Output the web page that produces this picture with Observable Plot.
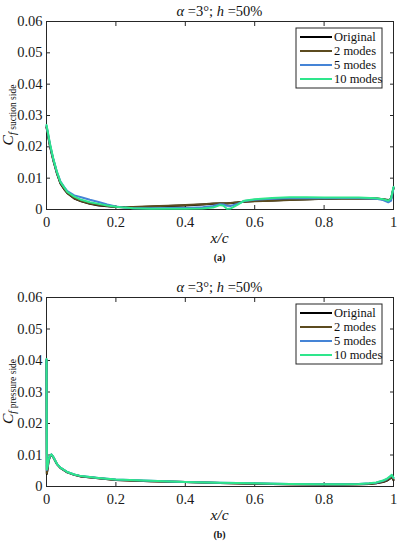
<!DOCTYPE html>
<html><head><meta charset="utf-8">
<script src="https://cdn.jsdelivr.net/npm/d3@7"></script>
<script src="https://cdn.jsdelivr.net/npm/@observablehq/plot@0.6"></script>
<style>
body{margin:0;background:#fff;}
#chart{width:397px;height:550px;}
svg{display:block;}
svg text{font-family:"Liberation Serif", serif;}
</style></head><body><div id="chart"></div>
<script>
// ---------- data ----------
const seriesNames = ["Original", "2 modes", "5 modes", "10 modes"];
const seriesColors = ["#000000", "#5c4b1f", "#4584d6", "#2ee68c"];
const xTicks = [0, 0.2, 0.4, 0.6, 0.8, 1];
const yTicks = [0, 0.01, 0.02, 0.03, 0.04, 0.05, 0.06];

// (a) suction side
const xA = [0, 0.005, 0.01, 0.015, 0.02, 0.03, 0.04, 0.05, 0.06, 0.08, 0.1, 0.125, 0.15, 0.175, 0.2, 0.225, 0.25, 0.3, 0.35, 0.4, 0.45, 0.48, 0.5, 0.51, 0.52, 0.53, 0.55, 0.57, 0.6, 0.65, 0.7, 0.75, 0.8, 0.85, 0.9, 0.95, 0.97, 0.985, 0.993, 1.0];
const originalA = [0.0262, 0.0232, 0.0202, 0.0178, 0.0155, 0.0115, 0.0083, 0.0066, 0.0052, 0.0035, 0.0026, 0.0018, 0.0013, 0.0010, 0.0008, 0.0007, 0.0007, 0.0009, 0.0011, 0.0013, 0.0016, 0.0018, 0.0019, 0.0019, 0.0019, 0.0020, 0.0022, 0.0025, 0.0027, 0.0029, 0.0031, 0.0033, 0.0034, 0.0035, 0.0036, 0.0035, 0.0033, 0.0030, 0.0034, 0.0068];
const modes2A = [0.0264, 0.0234, 0.0204, 0.0180, 0.0157, 0.0117, 0.0085, 0.0067, 0.0053, 0.0036, 0.0027, 0.0019, 0.0014, 0.0011, 0.0009, 0.0008, 0.0008, 0.0010, 0.0012, 0.0014, 0.0017, 0.0019, 0.0020, 0.0020, 0.0020, 0.0021, 0.0023, 0.0025, 0.0026, 0.0028, 0.0030, 0.0032, 0.0034, 0.0035, 0.0036, 0.0035, 0.0033, 0.0029, 0.0033, 0.0069];
const modes5A = [0.0268, 0.0238, 0.0208, 0.0183, 0.0160, 0.0120, 0.0090, 0.0073, 0.0059, 0.0045, 0.0039, 0.0031, 0.0024, 0.0016, 0.0010, 0.0006, 0.0004, 0.0004, 0.0005, 0.0005, 0.0007, 0.0011, 0.0017, 0.0016, 0.0012, 0.0011, 0.0018, 0.0027, 0.0031, 0.0034, 0.0036, 0.0036, 0.0036, 0.0037, 0.0037, 0.0034, 0.0030, 0.0023, 0.0028, 0.0070];
const modes10A = [0.0270, 0.0240, 0.0210, 0.0185, 0.0160, 0.0120, 0.0088, 0.0072, 0.0056, 0.0041, 0.0031, 0.0023, 0.0018, 0.0013, 0.0009, 0.0006, 0.0004, 0.0002, 0.0002, 0.0002, 0.0003, 0.0006, 0.0014, 0.0012, 0.0002, 0.0003, 0.0015, 0.0028, 0.0033, 0.0037, 0.0039, 0.0039, 0.0038, 0.0038, 0.0038, 0.0036, 0.0033, 0.0028, 0.0035, 0.0072];

// (b) pressure side
const xB = [0, 0.001, 0.003, 0.006, 0.01, 0.014, 0.02, 0.03, 0.04, 0.06, 0.08, 0.1, 0.15, 0.2, 0.3, 0.4, 0.5, 0.6, 0.7, 0.8, 0.85, 0.9, 0.93, 0.95, 0.97, 0.98, 0.99, 0.995, 1.0];
const originalB = [0.0400, 0.0040, 0.0055, 0.0080, 0.0096, 0.0101, 0.0092, 0.0071, 0.0059, 0.0045, 0.0037, 0.0032, 0.0026, 0.0021, 0.0017, 0.0014, 0.0011, 0.0009, 0.0007, 0.0006, 0.0006, 0.0007, 0.0008, 0.0010, 0.0014, 0.0018, 0.0025, 0.0030, 0.0020];
const modes2B = [0.0402, 0.0042, 0.0056, 0.0081, 0.0097, 0.0101, 0.0092, 0.0071, 0.0059, 0.0045, 0.0037, 0.0032, 0.0026, 0.0021, 0.0017, 0.0014, 0.0011, 0.0009, 0.0007, 0.0006, 0.0006, 0.0007, 0.0008, 0.0010, 0.0015, 0.0019, 0.0026, 0.0031, 0.0022];
const modes5B = [0.0404, 0.0052, 0.0063, 0.0084, 0.0098, 0.0102, 0.0093, 0.0072, 0.0060, 0.0046, 0.0038, 0.0033, 0.0027, 0.0022, 0.0018, 0.0014, 0.0012, 0.0010, 0.0008, 0.0007, 0.0007, 0.0008, 0.0010, 0.0012, 0.0018, 0.0023, 0.0031, 0.0036, 0.0027];
const modes10B = [0.0405, 0.0055, 0.0065, 0.0085, 0.0098, 0.0102, 0.0093, 0.0072, 0.0060, 0.0046, 0.0038, 0.0033, 0.0027, 0.0022, 0.0018, 0.0014, 0.0012, 0.0010, 0.0008, 0.0007, 0.0007, 0.0008, 0.0010, 0.0013, 0.0019, 0.0024, 0.0032, 0.0037, 0.0028];

// ---------- drawing ----------
const FONT = "Liberation Serif";
const AX = "#262626";

function toRows(xs, arrays) {
  const rows = [];
  arrays.forEach((arr, i) => arr.forEach((v, j) => rows.push({x: xs[j], cf: v, series: seriesNames[i]})));
  return rows;
}

function panel({xs, arrays, side, caption, height, mt, mb}) {
  const rows = toRows(xs, arrays);
  const fmt = d3.format("~g");
  const blank = () => "";
  const svg = Plot.plot({
    width: 397, height, marginLeft: 46, marginRight: 4, marginTop: mt, marginBottom: mb,
    style: {fontFamily: FONT, fontSize: "14.5px", color: AX, background: "white", overflow: "visible"},
    x: {domain: [0, 1]},
    y: {domain: [0, 0.06]},
    color: {domain: seriesNames, range: seriesColors},
    marks: [
      Plot.frame({stroke: AX, strokeWidth: 1}),
      Plot.axisX({ticks: xTicks, tickSize: 0, tickPadding: 7, tickFormat: fmt, label: null, fill: "#1a1a1a"}),
      Plot.axisY({ticks: yTicks, tickSize: 0, tickPadding: 4, tickFormat: fmt, label: null, fill: "#1a1a1a"}),
      Plot.axisX({ticks: xTicks, anchor: "bottom", tickSize: -4, tickFormat: blank, label: null, stroke: AX}),
      Plot.axisX({ticks: xTicks, anchor: "top", tickSize: -4, tickFormat: blank, label: null, stroke: AX}),
      Plot.axisY({ticks: yTicks, anchor: "left", tickSize: -4, tickFormat: blank, label: null, stroke: AX}),
      Plot.axisY({ticks: yTicks, anchor: "right", tickSize: -4, tickFormat: blank, label: null, stroke: AX}),
      Plot.line(rows, {x: "x", y: "cf", stroke: "series", z: "series", strokeWidth: 2})
    ]
  });
  const s = d3.select(svg);
  const cx = 219.5;
  const frameTop = mt, frameBottom = height - mb;
  const txt = (sel) => sel.attr("font-family", FONT).style("font-family", FONT).attr("fill", "#111");
  // title
  const t = txt(s.append("text")).attr("x", cx).attr("y", mt - 5).attr("text-anchor", "middle")
    .style("font-size", "14.5px");
  t.append("tspan").style("font-style", "italic").text("α");
  t.append("tspan").text(" =3°; ");
  t.append("tspan").style("font-style", "italic").text("h");
  t.append("tspan").text(" =50%");
  // x label
  txt(s.append("text")).attr("x", cx).attr("y", frameBottom + 34).attr("text-anchor", "middle")
    .style("font-size", "15.5px").style("font-style", "italic").text("x/c");
  // caption
  txt(s.append("text")).attr("x", cx).attr("y", frameBottom + 52).attr("text-anchor", "middle")
    .style("font-size", "10px").style("font-weight", "bold").text(caption);
  // y label
  const yl = txt(s.append("text")).attr("transform", `translate(13,${(frameTop + frameBottom) / 2}) rotate(-90)`)
    .attr("text-anchor", "middle");
  yl.append("tspan").style("font-style", "italic").style("font-size", "15.5px").text("C");
  yl.append("tspan").attr("dy", 2.5).style("font-style", "italic").style("font-size", "10.5px").text("f");
  yl.append("tspan").style("font-size", "9.5px").text(" " + side);
  // legend
  const bx = 296, by = frameTop + 7, bw = 86, bh = 60;
  const g = s.append("g");
  g.append("rect").attr("x", bx).attr("y", by).attr("width", bw).attr("height", bh)
    .attr("fill", "white").attr("stroke", AX).attr("stroke-width", 1);
  seriesNames.forEach((name, i) => {
    const yy = by + 9 + i * 14;
    g.append("line").attr("x1", bx + 4).attr("x2", bx + 36).attr("y1", yy).attr("y2", yy)
      .attr("stroke", seriesColors[i]).attr("stroke-width", 2);
    txt(g.append("text")).attr("x", bx + 38).attr("y", yy + 4).attr("text-anchor", "start")
      .style("font-size", "12.5px").text(name);
  });
  return svg;
}

const root = document.getElementById("chart");
root.appendChild(panel({xs: xA, arrays: [originalA, modes2A, modes5A, modes10A], side: "suction side", caption: "(a)", height: 270, mt: 21, mb: 61}));
root.appendChild(panel({xs: xB, arrays: [originalB, modes2B, modes5B, modes10B], side: "pressure side", caption: "(b)", height: 280, mt: 27, mb: 64}));
</script>
</body></html>
